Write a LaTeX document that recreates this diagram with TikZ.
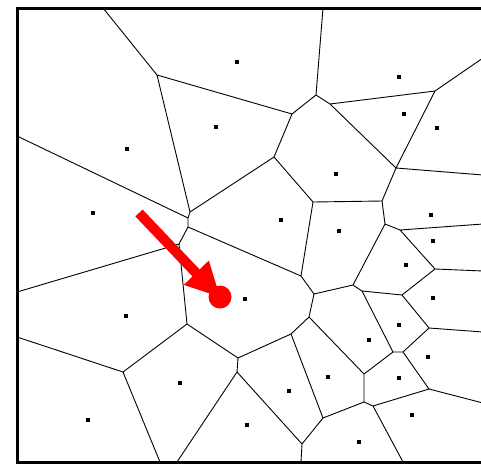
\documentclass[tikz,border=0pt]{standalone}
\begin{document}
\begin{tikzpicture}[x=1pt,y=-1pt,
  edge/.style={line width=0.9pt,black,line join=round},
  frame/.style={line width=3pt,black},
  site/.style={fill=black,inner sep=0pt,minimum size=3.2pt,rectangle},
  arrowred/.style={fill=red,draw=none}]
\useasboundingbox (0,0) rectangle (481,464);
% boundary points
\coordinate (t1) at (103,8); \coordinate (t2) at (323,8);
\coordinate (r1) at (483,58); \coordinate (r2) at (483,175);
\coordinate (r3) at (483,224); \coordinate (r4) at (483,271);
\coordinate (r5) at (483,332); \coordinate (r6) at (483,403);
\coordinate (b1) at (160,462); \coordinate (b2) at (177,462);
\coordinate (b3) at (301,462); \coordinate (b4) at (403,462);
\coordinate (l1) at (17,136); \coordinate (l2) at (17,292); \coordinate (l3) at (17,337);
% Voronoi vertices
\coordinate (A) at (157,75);  \coordinate (B) at (292,114);
\coordinate (D) at (316,95);  \coordinate (E) at (330,104);
\coordinate (F) at (435,91);  \coordinate (G) at (396,168);
\coordinate (H) at (382,201); \coordinate (I) at (274,157);
\coordinate (J) at (313,202); \coordinate (K) at (385,224);
\coordinate (K2) at (400,230); \coordinate (P2) at (435,269);
\coordinate (P) at (402,295); \coordinate (R) at (429,328);
\coordinate (Q2) at (403,352); \coordinate (Q1) at (393,352);
\coordinate (S) at (429,389); \coordinate (X) at (373,406);
\coordinate (W) at (364,402); \coordinate (T) at (364,374);
\coordinate (U) at (309,317); \coordinate (V) at (291,334);
\coordinate (Y) at (323,418); \coordinate (Z) at (302,444);
\coordinate (M) at (314,294); \coordinate (N) at (353,285);
\coordinate (O) at (362,291); \coordinate (L) at (301,276);
\coordinate (C) at (190,212); \coordinate (C2) at (188,218);
\coordinate (C3) at (188,227); \coordinate (C4) at (179,244);
\coordinate (BB) at (187,324); \coordinate (CC) at (123,372);
\coordinate (AA1) at (238,358); \coordinate (AA2) at (237,372);
% edges
\draw[edge] (t1)--(A) (A)--(B) (A)--(C) (B)--(D) (B)--(I) (t2)--(D) (D)--(E)
  (E)--(F) (E)--(G) (F)--(r1) (F)--(G) (G)--(r2) (G)--(H) (H)--(J) (H)--(K)
  (I)--(C) (I)--(J) (J)--(L) (K)--(K2) (K)--(N) (K2)--(r3) (K2)--(P2)
  (P2)--(r4) (P2)--(P) (P)--(O) (P)--(R) (R)--(r5) (R)--(Q2) (Q2)--(Q1)
  (Q2)--(S) (Q1)--(O) (Q1)--(T) (S)--(r6) (S)--(X) (X)--(W) (X)--(b4)
  (W)--(T) (W)--(Y) (T)--(U) (U)--(M) (U)--(V) (V)--(Y) (V)--(AA1)
  (Y)--(Z) (Z)--(b3) (Z)--(AA2) (M)--(L) (M)--(N) (N)--(O) (L)--(C3)
  (C)--(C2) (C2)--(l1) (C2)--(C3) (C3)--(C4) (C4)--(l2) (C4)--(BB)
  (BB)--(CC) (BB)--(AA1) (CC)--(l3) (CC)--(b1) (AA1)--(AA2) (AA2)--(b2);
% frame
\draw[frame] (17,462)--(17,8)--(484,8);
\draw[frame] (15.5,462)--(484,462);
% sites
\foreach \p [count=\i] in {(237,62),(399,77),(216,127),(404,114),(437,128),(127,149),
  (336,174),(93,213),(281,220),(431,215),(339,231),(433,241),(406,265),(245,299),
  (433,298),(126,316),(399,325),(369,340),(428,357),(180,383),(328,377),(399,378),
  (289,391),(412,415),(88,420),(247,425),(359,442)}
  \node[site] (s\i) at \p {};
% red arrow
\coordinate (ast) at (139,213);
\coordinate (atip) at (220,297);
\draw[red,line width=10pt] (ast)--(198,275);
\fill[arrowred] (208.8,260.5)--(atip)--(183.8,284.9)--cycle;
\node[circle,fill=red,inner sep=0pt,minimum size=23pt] (dot) at (atip) {};
\end{tikzpicture}
\end{document}
